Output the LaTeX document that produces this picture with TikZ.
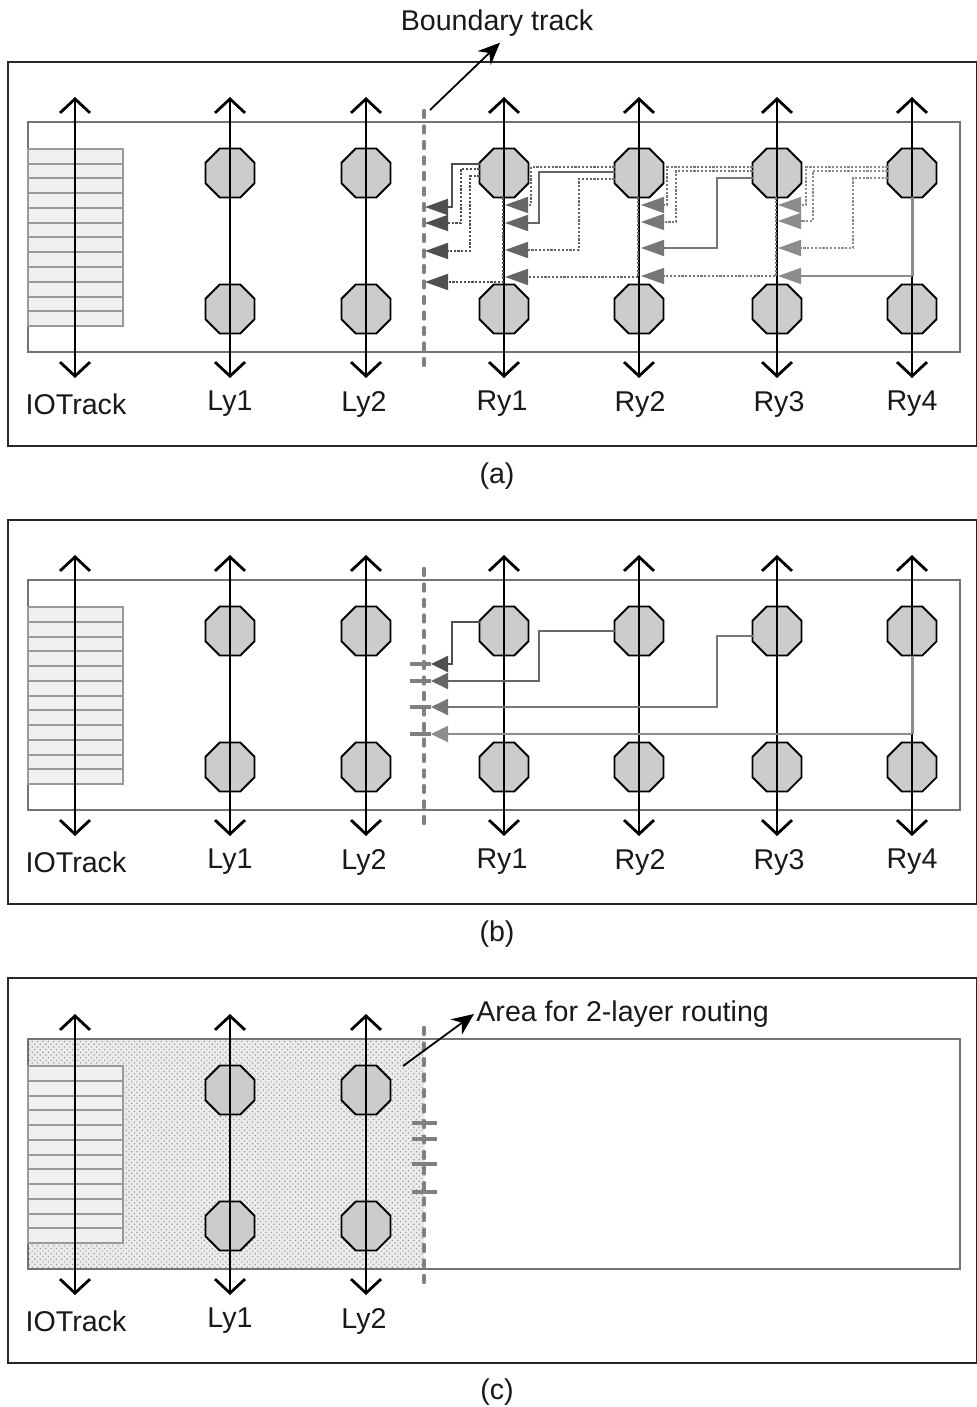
\documentclass[tikz,border=0pt]{standalone}
\usepackage{fontspec}
\setmainfont{Liberation Sans}
\usetikzlibrary{arrows.meta,calc,patterns.meta,shapes.geometric}
\definecolor{wa}{HTML}{4F4F4F}
\definecolor{wb}{HTML}{666666}
\definecolor{wc}{HTML}{777777}
\definecolor{wd}{HTML}{8C8C8C}
\tikzset{
  framebox/.style={draw=black!85,line width=1pt},
  innerbox/.style={draw=black!55,line width=.6pt},
  ioblock/.style={draw=black!40,line width=1pt,fill=black!6},
  rowline/.style={draw=black!40,line width=1pt},
  track/.style={line width=1.35pt,black,{Straight Barb[length=7pt,width=15pt,line width=1.4pt]}-{Straight Barb[length=7pt,width=15pt,line width=1.4pt]}},
  pin/.style={regular polygon,regular polygon sides=8,minimum size=26.6pt,inner sep=0pt,draw=black,line width=.9pt,fill=black!20},
  boundary/.style={draw=black!50,line width=2.2pt,line cap=round,dash pattern=on 3pt off 4.75pt},
  lab/.style={font=\fontsize{14.3}{16}\selectfont,inner sep=1pt,text=black!90},
  solidwire/.style={line width=.85pt,draw=#1,-{Triangle[length=11.5pt,width=8pt]}},
  dotwire/.style={line width=.8pt,draw=#1,dash pattern=on 1.1pt off .8pt,-{Triangle[length=11.5pt,width=8pt]}},
  shortwire/.style={line width=.95pt,draw=#1,-{Triangle[length=8.5pt,width=8pt]}},
  riser/.style={line width=1.5pt,draw=wd},
  tick/.style={line width=2pt,draw=black!50},
  leader/.style={line width=.9pt,black,-{Stealth[length=11pt,width=9.5pt]}}
}
% style, pin, dy, corner x, tip
\newcommand{\bentwire}[5]{%
  \coordinate (tmpa) at ($(#2)+(-24.5,#3)$);
  \coordinate (tmpc) at (#4,0);
  \draw[#1] (tmpa) -- (tmpc |- tmpa) -- (tmpc |- #5) -- (#5);}
% style, pin, tip
\newcommand{\dropwire}[3]{%
  \coordinate (tmpa) at ($(#2)+(-1,24.5)$);
  \draw[#1] (tmpa) -- (tmpa |- #3) -- (#3);}
% prefix, track list
\newcommand{\panelbase}[2]{%
  \draw[framebox] (8,62) rectangle (977,446);
  \draw[innerbox] (28,122) rectangle (960,352);
  \node[ioblock,rectangle,inner sep=0pt,minimum width=47.5pt,minimum height=88.5pt] (#1-io) at (75.5,237.5) {};
  \foreach \i in {1,...,11}{\draw[rowline] (28,149+14.75*\i) -- (123,149+14.75*\i);}
  \foreach \n/\x/\lx/\ly/\t in {#2}{
    \coordinate (#1-\n-t) at (\x,97);
    \coordinate (#1-\n-b) at (\x,378);
    \ifnum\x>100
      \node[pin] (#1-\n-u) at (\x,173) {};
      \node[pin] (#1-\n-d) at (\x,309) {};
    \fi
    \draw[track] (#1-\n-t) -- (#1-\n-b);
    \node[lab] (#1-\n-lab) at (\lx,\ly) {\t};
  }
  \coordinate (#1-bt) at (424,111);
  \coordinate (#1-bb) at (424,367);
}
\begin{document}
\begin{tikzpicture}[x=.5pt,y=-.5pt]
\useasboundingbox[fill=white] (0,0) rectangle (977,1407);
\def\alltracks{IO/75/76/404/IOTrack,L1/230/230/404/Ly1,L2/366/364/404/Ly2,R1/504/502/404/Ry1,R2/639/640/404/Ry2,R3/777/779/404/Ry3,R4/912/912/404/Ry4}
%--------------- (a)
\begin{scope}
\expandafter\panelbase\expandafter{\expandafter a\expandafter}\expandafter{\alltracks}
\draw[boundary] (a-bt) -- (a-bb);
\foreach \n/\x/\y in {b1/425/207,b2/425/223,b3/425/251,b4/425/282,
  c1/505/205,c2/505/223,c3/505/250,c4/505/277,
  d1/641/205,d2/641/222,d3/641/248,d4/641/276,
  e1/778/205,e2/778/221,e3/778/248,e4/778/276}{\coordinate (a-\n) at (\x,\y);}
\bentwire{solidwire=wa}{a-R1-u}{-9}{452}{a-b1}
\bentwire{dotwire=wa}{a-R1-u}{-4}{461}{a-b2}
\bentwire{dotwire=wa}{a-R1-u}{3}{470}{a-b3}
\dropwire{dotwire=wa}{a-R1-u}{a-b4}
\bentwire{dotwire=wb}{a-R2-u}{-6}{531}{a-c1}
\bentwire{solidwire=wb}{a-R2-u}{-1}{539}{a-c2}
\bentwire{dotwire=wb}{a-R2-u}{6}{579}{a-c3}
\dropwire{dotwire=wb}{a-R2-u}{a-c4}
\bentwire{dotwire=wc}{a-R3-u}{-6}{667}{a-d1}
\bentwire{dotwire=wc}{a-R3-u}{-2}{676}{a-d2}
\bentwire{solidwire=wc}{a-R3-u}{5}{717}{a-d3}
\dropwire{dotwire=wc}{a-R3-u}{a-d4}
\bentwire{dotwire=wd}{a-R4-u}{-6}{806}{a-e1}
\bentwire{dotwire=wd}{a-R4-u}{-2}{813}{a-e2}
\bentwire{dotwire=wd}{a-R4-u}{5}{853}{a-e3}
\coordinate (a-rj) at (a-R4-u |- a-e4);
\draw[riser] ($(a-R4-u)+(0,24.5)$) -- (a-rj);
\draw[solidwire=wd] (a-rj) -- (a-e4);
\node[lab,inner sep=3pt] (tb) at (497,23) {Boundary track};
\coordinate (a-lead) at (430,110);
\draw[leader] (a-lead) -- ([xshift=1.5pt]tb.south);
\node[lab] (capa) at (497,476) {(a)};
\end{scope}
%--------------- (b)
\begin{scope}[shift={(0,458)}]
\expandafter\panelbase\expandafter{\expandafter b\expandafter}\expandafter{\alltracks}
\draw[boundary] (b-bt) -- (b-bb);
\foreach \n/\y in {1/206,2/223,3/249,4/276}{
  \coordinate (b-s\n) at (410,\y);
  \coordinate (b-p\n) at (431,\y);
  \draw[tick] (b-s\n) -- (b-p\n);
}
\bentwire{shortwire=wa}{b-R1-u}{-9}{452}{b-p1}
\bentwire{shortwire=wb}{b-R2-u}{0}{539}{b-p2}
\bentwire{shortwire=wc}{b-R3-u}{5}{717}{b-p3}
\coordinate (b-rj) at (b-R4-u |- b-p4);
\draw[riser] ($(b-R4-u)+(0,24.5)$) -- (b-rj);
\draw[shortwire=wd] (b-rj) -- (b-p4);
\node[lab] (capb) at (497,476) {(b)};
\end{scope}
%--------------- (c)
\begin{scope}[shift={(0,917)}]
\fill[black!8] (28,122) rectangle (424,352);
\fill[pattern={Dots[distance=1.9pt,radius=.42pt,angle=45]},pattern color=black!40] (28,122) rectangle (424,352);
\draw[framebox] (8,61) rectangle (977,446);
\draw[innerbox] (28,122) rectangle (960,352);
\node[ioblock,rectangle,inner sep=0pt,minimum width=47.5pt,minimum height=88.5pt] (c-io) at (75.5,237.5) {};
\foreach \i in {1,...,11}{\draw[rowline] (28,149+14.75*\i) -- (123,149+14.75*\i);}
\foreach \n/\x/\lx/\ly/\t in {IO/75/76/404/IOTrack,L1/230/230/404/Ly1,L2/366/364/404/Ly2}{
  \coordinate (c-\n-t) at (\x,97);
  \coordinate (c-\n-b) at (\x,378);
  \ifnum\x>100
    \node[pin] (c-\n-u) at (\x,173) {};
    \node[pin] (c-\n-d) at (\x,309) {};
  \fi
  \draw[track] (c-\n-t) -- (c-\n-b);
  \node[lab] (c-\n-lab) at (\lx,\ly) {\t};
}
\coordinate (c-bt) at (424,111);
\coordinate (c-bb) at (424,367);
\draw[boundary] (c-bt) -- (c-bb);
\foreach \n/\y in {1/206,2/222,3/247,4/275}{
  \coordinate (c-s\n) at (412,\y);
  \coordinate (c-p\n) at (437,\y);
  \draw[tick] (c-s\n) -- (c-p\n);
}
\node[lab,anchor=west] (area) at (474,97) {Area for 2-layer routing};
\coordinate (c-lead) at (403,149);
\draw[leader] (c-lead) -- (area.west);
\node[lab] (capc) at (497,475) {(c)};
\end{scope}
\end{tikzpicture}
\end{document}
